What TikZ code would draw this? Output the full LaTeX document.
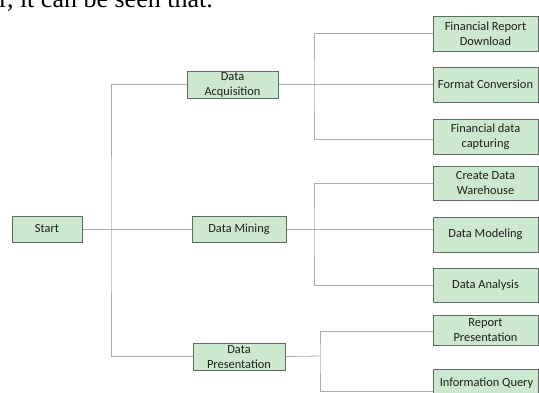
\documentclass[tikz,border=0pt]{standalone}
\usepackage{fontspec}
\setmainfont{Carlito}
\newfontfamily\bodyserif{Liberation Serif}
\definecolor{boxfill}{RGB}{204,232,206}
\definecolor{boxedge}{RGB}{95,106,96}
\definecolor{wire}{RGB}{172,172,172}
\definecolor{boxtext}{RGB}{30,30,30}
\begin{document}
\begin{tikzpicture}[x=1pt,y=-1pt,
  box/.style={draw=boxedge,fill=boxfill,line width=1pt,inner sep=0pt,
    text=boxtext,align=center,font=\fontsize{12.4}{15.5}\selectfont},
  lefttxt/.style={inner sep=0pt,text=boxtext,align=center,
    font=\fontsize{12.4}{15}\selectfont},
  conn/.style={draw=wire,line width=0.8pt}]
\useasboundingbox (0,0) rectangle (539,392);
\clip (0,0) rectangle (539,392);

% line of running text above the chart
\node[anchor=base east,inner sep=0pt,font=\bodyserif\fontsize{26}{30}\selectfont]
  (runtext) at (213,7.3) {r, it can be seen that.};

% first level
\node[box,minimum width=70pt,minimum height=26pt] (start) at (47,229) {Start};
\node[box,minimum width=91pt,minimum height=27pt] (acq) at (232.5,84.5) {};
\node[lefttxt] (acqt) at (232.5,85.5) {Data\\Acquisition};
\node[box,minimum width=94pt,minimum height=26pt] (mine) at (239,229) {Data Mining};
\node[box,minimum width=92pt,minimum height=27pt] (pres) at (239,356.5) {};
\node[lefttxt] (prest) at (239,357.5) {Data\\Presentation};

% second level
\node[box,minimum width=105pt,minimum height=35pt] (frd) at (485.5,33.5) {Financial Report\\Download};
\node[box,minimum width=105pt,minimum height=35pt] (fc)  at (485.5,84.5) {Format Conversion};
\node[box,minimum width=105pt,minimum height=35pt] (fdc) at (485.5,137) {Financial data\\capturing};
\node[box,minimum width=105pt,minimum height=34pt] (cdw) at (485.5,183) {Create Data\\Warehouse};
\node[box,minimum width=105pt,minimum height=35pt] (dm)  at (485.5,234.5) {Data Modeling};
\node[box,minimum width=105pt,minimum height=34pt] (da)  at (485.5,285) {Data Analysis};
\node[box,minimum width=105pt,minimum height=30pt] (rp)  at (485.5,330) {Report\\Presentation};
\node[box,minimum width=105pt,minimum height=36pt] (iq)  at (485.5,387) {};
\node[lefttxt] (iqt) at (486.5,383) {Information Query};

% bus junctions
\coordinate (trunk) at (111,229);
\coordinate (ja) at (314,84);
\coordinate (jm) at (314,229);
\coordinate (jp) at (320,356);

% connectors
\draw[conn] (start.east) -- (mine.west);
\draw[conn] (acq.west) -| (trunk) |- (pres.west);
\draw[conn] (acq.east) -- (fc.west);
\draw[conn] (frd.west) -| (ja) |- ([yshift=-2pt]fdc.west);
\draw[conn] (mine.east) -- ([yshift=5.5pt]dm.west);
\draw[conn] (cdw.west) -| (jm) |- (da.west);
\draw[conn] (pres.east) -- (jp);
\draw[conn] ([yshift=-1pt]rp.west) -| (jp) |- ([yshift=-4pt]iq.west);
\end{tikzpicture}
\end{document}
